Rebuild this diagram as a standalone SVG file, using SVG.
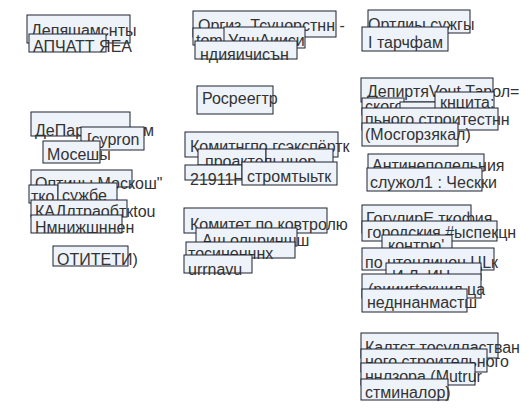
<svg xmlns="http://www.w3.org/2000/svg" width="529" height="419" viewBox="0 0 529 419">
<style>
rect{fill:#eef2f9;stroke:#1c2230;stroke-width:1}
text{font-family:"Liberation Sans",Arial,sans-serif;font-size:16px;fill:#333}
</style>
<rect x="0" y="0" width="529" height="419" style="fill:#ffffff;stroke:none"/>
<g id="connectors"></g>
<g id="n1">
<rect x="27" y="15" width="103" height="28"/><text x="31" y="36">Депяшамснты</text>
<rect x="29" y="34" width="77" height="18"/><text x="33" y="52">АПЧАТТ ЯЕА</text>
</g>
<g id="n2">
<rect x="31" y="112" width="99" height="24"/><text x="35" y="136">ДеПартманттом</text>
<rect x="81" y="127" width="63" height="23"/><text x="87" y="145">[cypron</text>
<rect x="43" y="141" width="57" height="22"/><text x="47" y="160">Мосешы</text>
</g>
<g id="n3">
<rect x="31" y="170" width="101" height="17"/><text x="35" y="189">Оптицы Москош"</text>
<rect x="29" y="185" width="29" height="18"/><text x="31" y="202">тко</text>
<rect x="58" y="183" width="59" height="19"/><text x="62" y="201">сужбе</text>
<rect x="31" y="200" width="96" height="17"/><text x="35" y="217">КАДлтраобткtou</text>
<rect x="31" y="215" width="91" height="18"/><text x="35" y="233">Нмнижшннен</text>
</g>
<g id="n4">
<rect x="53" y="246" width="75" height="20"/><text x="57" y="265">ОТИТЕТИ)</text>
</g>
<g id="n5">
<rect x="193" y="11" width="143" height="26"/><text x="198" y="31">Оргиз. Тсуцорстнн -</text>
<rect x="193" y="28" width="32" height="17"/><text x="196" y="46">tom</text>
<rect x="224" y="27" width="81" height="21"/><text x="228" y="46">УлшАииси</text>
<rect x="195" y="41" width="102" height="18"/><text x="200" y="60">ндияичисън</text>
</g>
<g id="n6">
<rect x="197" y="86" width="76" height="28"/><text x="202" y="104">Росреегтр</text>
</g>
<g id="n7">
<rect x="185" y="132" width="153" height="25"/><text x="190" y="152">Комитнгпо гсэкспёртк</text>
<rect x="198" y="149" width="68" height="16"/><rect x="266" y="149" width="67" height="16"/><text x="205" y="167">проактельннор</text>
<rect x="185" y="165" width="57" height="15"/><text x="190" y="185">21911Н</text>
<rect x="242" y="162" width="95" height="23"/><text x="247" y="182">стромтыьтк</text>
</g>
<g id="n8">
<rect x="184" y="208" width="143" height="25"/><text x="190" y="230">Комитет по ковтролю</text>
<rect x="196" y="228" width="101" height="18"/><text x="202" y="246">Аш олцриншш</text>
<rect x="186" y="242" width="109" height="16"/><text x="188" y="259">тосиненннх</text>
<rect x="184" y="255" width="68" height="18"/><text x="188" y="275">urrnavu</text>
</g>
<g id="n9">
<rect x="368" y="10" width="102" height="23"/><text x="368" y="30">Ортлиы сужгы</text>
<rect x="362" y="27" width="86" height="24"/><text x="368" y="48">I тарчфам</text>
</g>
<g id="n10">
<rect x="361" y="78" width="132" height="24"/><text x="367" y="97">ДепиртяVout Тарол=</text>
<rect x="362" y="98" width="42" height="17"/><text x="365" y="112">ского</text>
<rect x="400" y="102" width="40" height="10"/>
<rect x="435" y="92" width="59" height="20"/><text x="440" y="108">кнцита:</text>
<rect x="362" y="108" width="136" height="22"/><text x="365" y="125">пьного строитестнн</text>
<rect x="362" y="123" width="96" height="23"/><text x="365" y="140">(Мосгорзякал)</text>
</g>
<g id="n11">
<rect x="368" y="154" width="116" height="17"/><text x="372" y="171">Антинеполельния</text>
<rect x="367" y="168" width="115" height="23"/><text x="370" y="188">служол1 : Ческки</text>
</g>
<g id="n12">
<rect x="362" y="205" width="109" height="28"/><text x="366" y="224">ГогулирЕ ткофия</text>
<rect x="362" y="221" width="135" height="20"/><text x="367" y="238">городския #ыспекцн</text>
<rect x="382" y="235" width="70" height="16"/><text x="388" y="251">контрю'</text>
<rect x="362" y="248" width="132" height="22"/><text x="365" y="268">по нтоцлинон ЦLк</text>
<rect x="386" y="263" width="95" height="17"/><text x="392" y="282">И Л. ИЦ</text>
<rect x="362" y="274" width="119" height="24"/><text x="368" y="295">(рииигtокцил ца</text>
<rect x="362" y="289" width="105" height="23"/><text x="367" y="308">недннанмастш</text>
</g>
<g id="n13">
<rect x="361" y="333" width="137" height="25"/><text x="365" y="353">Калтст тосудластван</text>
<rect x="361" y="349" width="126" height="23"/><text x="365" y="367">ного строительного</text>
<rect x="361" y="363" width="114" height="22"/><text x="365" y="382">ннлзора (Mutrur</text>
<rect x="361" y="379" width="87" height="21"/><text x="365" y="398">стминалор)</text>
</g>
</svg>
